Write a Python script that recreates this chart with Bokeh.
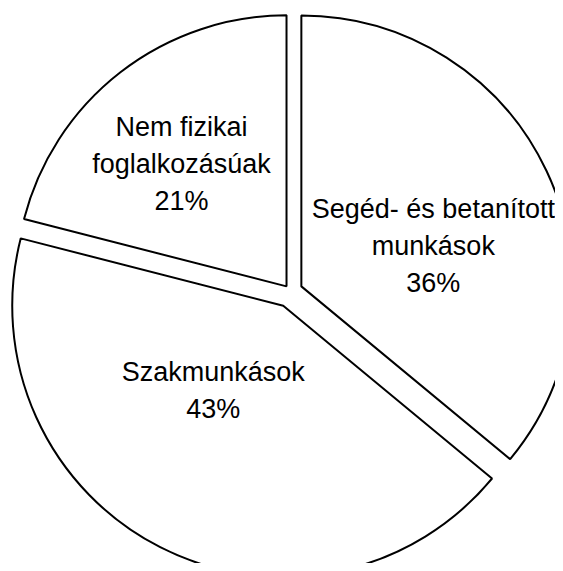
import math
from bokeh.plotting import figure
from bokeh.models import Range1d, ColumnDataSource
from bokeh.core.properties import value
from bokeh.embed import file_html
from bokeh.resources import INLINE

# ---- data ----
categories = ["Segéd- és betanított munkások", "Szakmunkások", "Nem fizikai foglalkozásúak"]
label_lines = [["Segéd- és betanított", "munkások"], ["Szakmunkások"], ["Nem fizikai", "foglalkozásúak"]]
shares = [36, 43, 21]

# ---- layout / style ----
W, H = 555, 563
IMG_H = 571
CENTER = (290.0, 280.0)          # pie centre (pixel units, y up)
RADIUS = 271.0
explode = [12.0, 16.0, 6.5]      # per-slice explode distance
label_offset = [(132.0, 68.0), (-70.0, -75.7), (-105.0, 150.3)]  # first baseline rel. to apex
TEXT_SHIFT = 9.0
LINE_STEP = 37.0
FONT = "Liberation Sans"
FONT_SIZE = "27px"

p = figure(width=W, height=H, output_backend="svg", toolbar_location=None,
           x_range=Range1d(0, W), y_range=Range1d(IMG_H - H, IMG_H),
           min_border=0, min_border_left=0, min_border_right=0,
           min_border_top=0, min_border_bottom=0)
p.axis.visible = False
p.grid.visible = False
p.outline_line_color = None
p.background_fill_color = "white"
p.border_fill_color = "white"

total = float(sum(shares))
xs, ys, starts, ends = [], [], [], []
tx, ty, tt = [], [], []
cum = 0.0
for i, v in enumerate(shares):
    a0 = math.pi / 2 - 2 * math.pi * cum / total
    cum += v
    a1 = math.pi / 2 - 2 * math.pi * cum / total
    mid = (a0 + a1) / 2
    cx = CENTER[0] + explode[i] * math.cos(mid)
    cy = CENTER[1] + explode[i] * math.sin(mid)
    xs.append(cx); ys.append(cy); starts.append(a0); ends.append(a1)
    lines = label_lines[i] + [f"{v}%"]
    ox, oy = label_offset[i]
    for j, line in enumerate(lines):
        tx.append(cx + ox)
        ty.append(cy + oy + TEXT_SHIFT - j * LINE_STEP)
        tt.append(line)

src = ColumnDataSource(dict(x=xs, y=ys, start=starts, end=ends, cat=categories))
p.wedge(x="x", y="y", radius=RADIUS, start_angle="start", end_angle="end",
        direction="clock", source=src, fill_color="white",
        line_color="black", line_width=2)

tsrc = ColumnDataSource(dict(x=tx, y=ty, t=tt))
p.text(x="x", y="y", text="t", source=tsrc, text_align="center",
       text_baseline="alphabetic", text_font=value(FONT),
       text_font_size=value(FONT_SIZE), text_color="black")

open("out.html", "w").write(file_html(p, INLINE))
